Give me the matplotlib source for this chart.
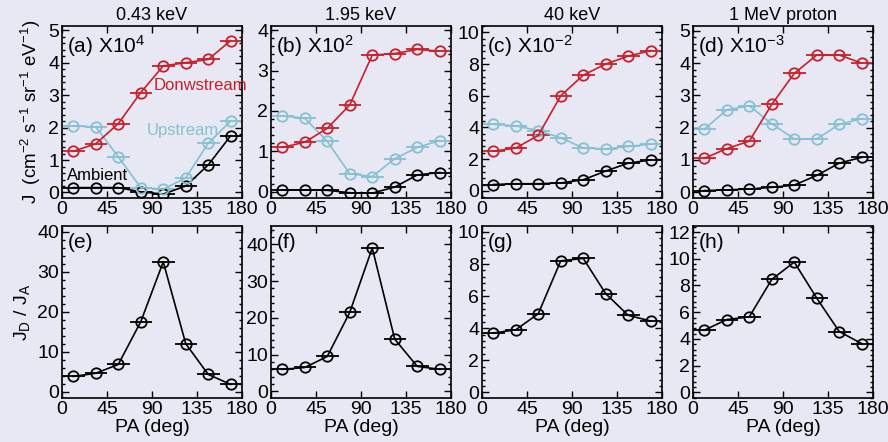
import numpy as np
import matplotlib
matplotlib.use("Agg")
import matplotlib.pyplot as plt
from matplotlib.ticker import MultipleLocator, AutoMinorLocator

# ============== Data ==============
# pitch angle bin centres (8 bins of 22.5 deg)
pa = [11.25, 33.75, 56.25, 78.75, 101.25, 123.75, 146.25, 168.75]
pa_err = 11.25

titles = ["0.43 keV", "1.95 keV", "40 keV", "1 MeV proton"]
scale_labels = ["(a) X10$^4$", "(b) X10$^2$", "(c) X10$^{-2}$", "(d) X10$^{-3}$"]
ratio_labels = ["(e)", "(f)", "(g)", "(h)"]

down_a = [1.27, 1.50, 2.12, 3.08, 3.90, 4.00, 4.10, 4.68]
up_a = [2.05, 2.02, 1.10, 0.15, 0.10, 0.45, 1.52, 2.20]
amb_a = [0.15, 0.15, 0.15, 0.02, -0.05, 0.20, 0.85, 1.75]

down_b = [1.10, 1.23, 1.57, 2.15, 3.38, 3.42, 3.52, 3.48]
up_b = [1.88, 1.82, 1.25, 0.45, 0.38, 0.82, 1.10, 1.27]
amb_b = [0.05, 0.05, 0.04, -0.02, -0.03, 0.12, 0.42, 0.48]

down_c = [2.50, 2.70, 3.50, 6.00, 7.30, 8.00, 8.50, 8.85]
up_c = [4.20, 4.10, 3.80, 3.35, 2.70, 2.65, 2.80, 2.95]
amb_c = [0.40, 0.45, 0.45, 0.50, 0.70, 1.25, 1.75, 1.95]

down_d = [1.05, 1.35, 1.58, 2.72, 3.68, 4.25, 4.25, 4.00]
up_d = [1.95, 2.55, 2.68, 2.12, 1.65, 1.65, 2.10, 2.28]
amb_d = [0.05, 0.07, 0.10, 0.15, 0.22, 0.52, 0.90, 1.08]

ratio_e = [3.8, 4.6, 6.8, 17.5, 32.5, 12.0, 4.3, 1.8]
ratio_f = [6.0, 6.5, 9.5, 21.5, 39.0, 14.2, 6.8, 6.0]
ratio_g = [3.7, 3.9, 4.9, 8.2, 8.35, 6.15, 4.8, 4.45]
ratio_h = [4.65, 5.45, 5.65, 8.45, 9.75, 7.05, 4.55, 3.65]
# ==================================

BG = "#e8e8f4"
RED = "#c8202a"
BLUE = "#86c0d2"

plt.rcParams["font.family"] = ["Liberation Sans", "DejaVu Sans"]
plt.rcParams["mathtext.fontset"] = "custom"
plt.rcParams["mathtext.rm"] = "Liberation Sans"
plt.rcParams["mathtext.it"] = "Liberation Sans"
plt.rcParams["mathtext.default"] = "rm"

flux = [(down_a, up_a, amb_a), (down_b, up_b, amb_b),
        (down_c, up_c, amb_c), (down_d, up_d, amb_d)]
ratios = [ratio_e, ratio_f, ratio_g, ratio_h]

top_ylim = [(-0.17, 5.13), (-0.15, 4.1), (-0.45, 10.4), (-0.18, 5.15)]
top_step = [1, 1, 2, 1]
bot_ylim = [(-1.6, 41.5), (-1.8, 45), (-0.35, 10.37), (-0.42, 12.45)]
bot_step = [10, 10, 2, 2]

lefts = [62, 271, 482, 693]
W, H = 888, 442


def style_axis(ax, ylim, step):
    ax.set_facecolor(BG)
    ax.set_xlim(0, 180)
    ax.set_ylim(*ylim)
    ax.xaxis.set_major_locator(MultipleLocator(45))
    ax.yaxis.set_major_locator(MultipleLocator(step))
    ax.yaxis.set_minor_locator(AutoMinorLocator(5))
    ax.tick_params(direction="in", top=True, right=True, labelsize=14,
                   length=5, width=1, pad=2)
    ax.tick_params(which="minor", direction="in", left=True, right=True,
                   length=2.5, width=1)
    ax.tick_params(axis="x", which="minor", bottom=False, top=False)
    for s in ax.spines.values():
        s.set_linewidth(1.2)


def draw(ax, y, color):
    ax.errorbar(pa, y, xerr=pa_err, color=color, marker="o", ms=7.5,
                mfc="none", mec=color, mew=1.3, lw=1.2, elinewidth=1.3,
                capsize=0)


fig = plt.figure(figsize=(W / 100, H / 100), dpi=100)
fig.patch.set_facecolor(BG)

for i in range(4):
    ax = fig.add_axes([lefts[i] / W, 244 / H, 180 / W, 172 / H])
    style_axis(ax, top_ylim[i], top_step[i])
    down, up, amb = flux[i]
    draw(ax, amb, "black")
    draw(ax, up, BLUE)
    draw(ax, down, RED)
    ax.set_title(titles[i], fontsize=13, pad=4)
    ax.text(0.03, 0.96, scale_labels[i], transform=ax.transAxes,
            fontsize=15, va="top", ha="left")
    if i == 0:
        ax.set_ylabel("J  (cm$^{-2}$ s$^{-1}$ sr$^{-1}$ eV$^{-1}$)",
                      fontsize=13.5, labelpad=4)
        ax.text(92, 3.15, "Donwstream", color=RED, fontsize=12)
        ax.text(85, 1.78, "Upstream", color=BLUE, fontsize=12)
        ax.text(5, 0.4, "Ambient", color="black", fontsize=12)

    ax2 = fig.add_axes([lefts[i] / W, 44 / H, 180 / W, 172 / H])
    style_axis(ax2, bot_ylim[i], bot_step[i])
    draw(ax2, ratios[i], "black")
    ax2.text(0.03, 0.96, ratio_labels[i], transform=ax2.transAxes,
             fontsize=15, va="top", ha="left")
    ax2.set_xlabel("PA (deg)", fontsize=14, labelpad=1)
    if i == 0:
        ax2.set_ylabel("J$_{D}$ / J$_{A}$", fontsize=14, labelpad=4)

plt.savefig("out.png", dpi=100, facecolor=BG)
